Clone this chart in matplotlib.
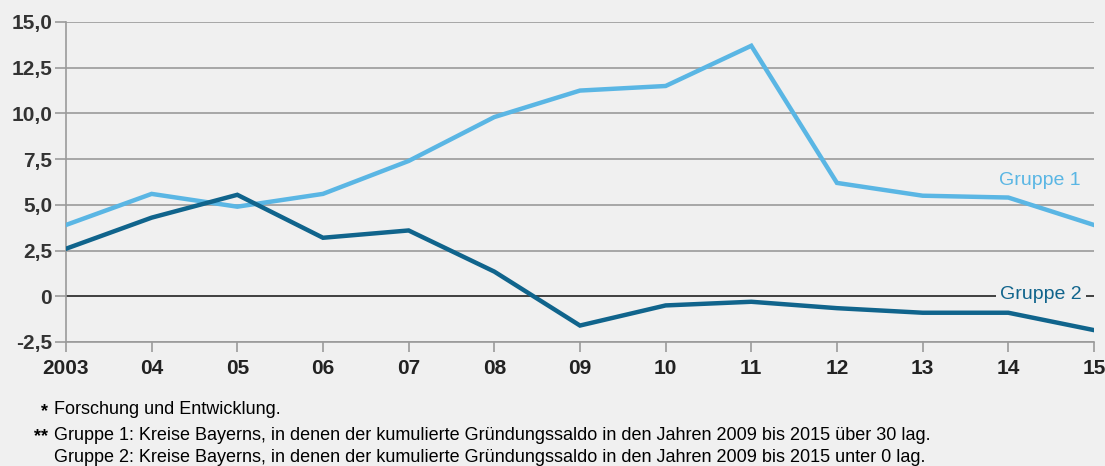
import matplotlib.pyplot as plt
import numpy as np

# Daten
jahre = ['2003', '04', '05', '06', '07', '08', '09', '10', '11', '12', '13', '14', '15']
gruppe1 = [3.9, 5.6, 4.9, 5.6, 7.4, 9.8, 11.25, 11.5, 13.7, 6.2, 5.5, 5.4, 3.9]
gruppe2 = [2.6, 4.3, 5.55, 3.2, 3.6, 1.35, -1.6, -0.5, -0.3, -0.65, -0.9, -0.9, -1.85]
yticks = [-2.5, 0, 2.5, 5.0, 7.5, 10.0, 12.5, 15.0]
ytick_labels = ['-2,5', '0', '2,5', '5,0', '7,5', '10,0', '12,5', '15,0']

hell = '#5ab6e4'
dunkel = '#10648c'
bg = '#f0f0f0'

plt.rcParams['font.family'] = ['Liberation Sans', 'DejaVu Sans']

fig = plt.figure(figsize=(11.05, 4.66), dpi=100, facecolor=bg)
ax = fig.add_axes([0.0597, 0.2661, 0.9303, 0.6867], facecolor=bg)

x = np.arange(len(jahre))
ax.set_ylim(-2.5, 15.0)
ax.set_xlim(0, len(jahre) - 1)

for y in yticks:
    if y != 0:
        ax.axhline(y, color='#9a9a9a', lw=1.2, zorder=1)
ax.axhline(0, color='#222222', lw=1.2, zorder=2)

ax.plot(x, gruppe1, color=hell, lw=3.2, zorder=3, solid_joinstyle='miter')
ax.plot(x, gruppe2, color=dunkel, lw=3.2, zorder=3, solid_joinstyle='miter')

ax.text(11.84, 6.35, 'Gruppe 1', color=hell, fontsize=14, ha='right', va='center', zorder=4)
ax.text(11.86, 0.1, 'Gruppe 2', color=dunkel, fontsize=14, ha='right', va='center', zorder=4,
        bbox=dict(boxstyle='square,pad=0.2', fc=bg, ec='none'))

ax.set_yticks(yticks)
ax.set_yticklabels(ytick_labels, fontsize=15, fontweight='bold', color='#333333')
ax.set_xticks(x)
ax.set_xticklabels(jahre, fontsize=15, fontweight='bold', color='#222222')
ax.tick_params(axis='y', length=8, width=1.2, color='#9a9a9a', pad=2)
ax.tick_params(axis='x', length=7, width=1.2, color='#9a9a9a', pad=5)

for s in ['top', 'right']:
    ax.spines[s].set_visible(False)
for s in ['left', 'bottom']:
    ax.spines[s].set_color('#9a9a9a')
    ax.spines[s].set_linewidth(1.2)

fs = 13
fig.text(0.043, 1 - 412 / 466, '*', fontsize=fs, ha='right', va='center', fontweight='bold')
fig.text(0.049, 1 - 410 / 466, 'Forschung und Entwicklung.', fontsize=fs, va='center')
fig.text(0.043, 1 - 437 / 466, '**', fontsize=fs, ha='right', va='center', fontweight='bold')
fig.text(0.049, 1 - 435 / 466,
         'Gruppe 1: Kreise Bayerns, in denen der kumulierte Gründungssaldo in den Jahren 2009 bis 2015 über 30 lag.',
         fontsize=fs, va='center')
fig.text(0.049, 1 - 458 / 466,
         'Gruppe 2: Kreise Bayerns, in denen der kumulierte Gründungssaldo in den Jahren 2009 bis 2015 unter 0 lag.',
         fontsize=fs, va='center')

fig.savefig('out.png', dpi=100, facecolor=bg)
